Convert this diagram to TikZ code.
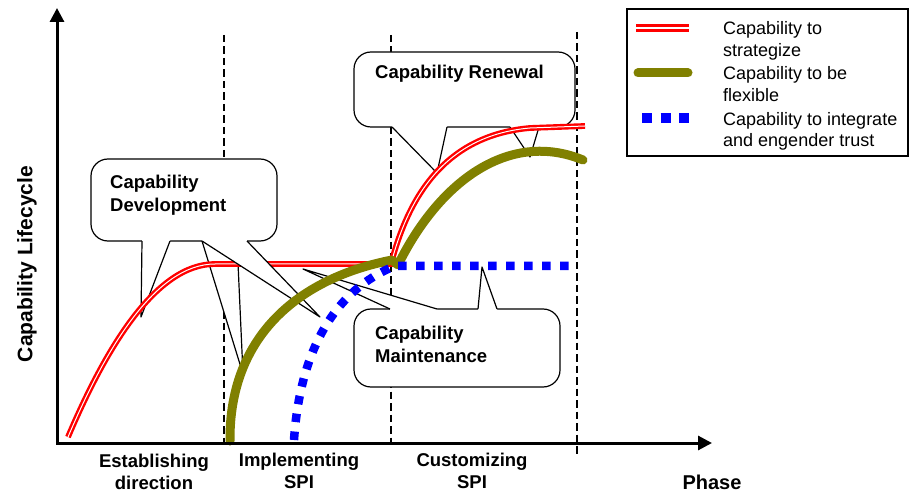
\documentclass[tikz,border=0pt]{standalone}
\usepackage{fontspec}
\setmainfont{Liberation Sans}
\usetikzlibrary{arrows.meta,calc}

\definecolor{flexolive}{RGB}{128,128,0}
\definecolor{trustblue}{RGB}{0,0,255}

% pointer of a callout: base left, tip, base right, shift into the box
\newcommand{\callpin}[4]{%
  \fill[white] ($#1+(0,#4)$) -- #1 -- #2 -- #3 -- ($#3+(0,#4)$) -- cycle;
  \draw[callline] #1 -- #2 -- #3;}

\begin{document}
\begin{tikzpicture}[x=1pt,y=-1pt,
    axis/.style={line width=3pt,line join=miter,{Triangle[length=14pt,width=14pt]}-{Triangle[length=14pt,width=14pt]}},
    phaseline/.style={line width=2pt,dash pattern=on 7.5pt off 4pt},
    callline/.style={line width=1.2pt,line join=round},
    callbox/.style={draw,callline,fill=white,rounded corners=17pt,inner sep=0pt},
    calltext/.style={font=\bfseries\fontsize{18.5}{23}\selectfont,align=left,inner sep=0pt,anchor=north west},
    phasetext/.style={font=\bfseries\fontsize{18.5}{21.5}\selectfont,align=center,inner sep=0pt,anchor=north},
    legendtext/.style={font=\fontsize{18}{21.5}\selectfont,align=left,inner sep=0pt,anchor=north west},
    strategize/.style={draw=red,double=white,line width=2.4pt,double distance=1pt},
    flexible/.style={draw=flexolive,line width=9pt,line cap=round,line join=round},
    trust/.style={draw=trustblue,line width=8.5pt,dash pattern=on 8.5pt off 9.5pt}]
    \useasboundingbox (0,0) rectangle (910,494);

    \coordinate (o)    at (57,443);
    \coordinate (ytop) at (57,8);
    \coordinate (xend) at (712,443);

    \draw[phaseline] (224,35) -- (224,443);
    \draw[phaseline] (391,35) -- (391,443);
    \draw[phaseline] (577,32) -- (577,455);

    \node[callbox,minimum width=186pt,minimum height=82pt] (develop) at (184,200) {};
    \callpin{(142,241)}{(141,317)}{(170,241)}{-3}
    \callpin{(202,241)}{(243,374)}{(237,241)}{-3}
    \node[calltext] (developtext) at (110,174.5) {Capability\\Development};

    \node[callbox,minimum width=221pt,minimum height=75pt] (renewal) at (464.5,89.5) {};
    \callpin{(392,127)}{(437,173)}{(447,127)}{-3}
    \callpin{(510,127)}{(530,157)}{(539,127)}{-3}
    \node[calltext] (renewaltext) at (375,64.5) {Capability Renewal};

    \node[callbox,minimum width=206pt,minimum height=78pt] (maintain) at (457,348) {};
    \callpin{(390,309)}{(303,269)}{(437,309)}{3}
    \callpin{(478,309)}{(482,267)}{(497,309)}{3}
    \node[calltext] (maintaintext) at (375,326) {Capability\\Maintenance};

    \draw[strategize] (68,437) .. controls (104.8,350.6) and (155,264) .. (215,264) -- (391,264)
        .. controls (410,190) and (450,135) .. (530,128) -- (585,126);

    \callpin{(202,241)}{(320,317)}{(247,241)}{-3}

    \draw[flexible] (230,441) .. controls (229,335) and (300,278) .. (392,260) -- (398,265)
        .. controls (440,180) and (510,130) .. (583,160);

    \draw[trust] (294,440) .. controls (300,350) and (335,290) .. (395,266) -- (572,266);

    \draw[axis] (ytop) -- (o) -- (xend);

    \node[rotate=90,font=\bfseries\fontsize{21}{24}\selectfont] (ylabel) at (27,264) {Capability Lifecycle};
    \node[font=\bfseries\fontsize{20}{24}\selectfont] (xlabel) at (712,482) {Phase};

    \node[phasetext] (establish) at (154,454) {Establishing\\direction};
    \node[phasetext] (implement) at (299,453) {Implementing\\SPI};
    \node[phasetext] (customize) at (472,453) {Customizing\\SPI};

    \node[draw,line width=1.5pt,minimum width=281pt,minimum height=147pt,inner sep=0pt] (legend) at (767.5,82.5) {};
    \draw[strategize,line width=3.2pt,double distance=1.4pt] (636,28) -- (689,28);
    \draw[flexible] (638,73) -- (688,73);
    \draw[trust,line width=10pt,dash pattern=on 10pt off 8.5pt] (642,118) -- (689,118);
    \node[legendtext] (strategizetext) at (723,21.5) {Capability to\\strategize};
    \node[legendtext] (flexibletext) at (723,66.5) {Capability to be\\flexible};
    \node[legendtext] (trusttext) at (723,112) {Capability to integrate\\and engender trust};
\end{tikzpicture}
\end{document}
